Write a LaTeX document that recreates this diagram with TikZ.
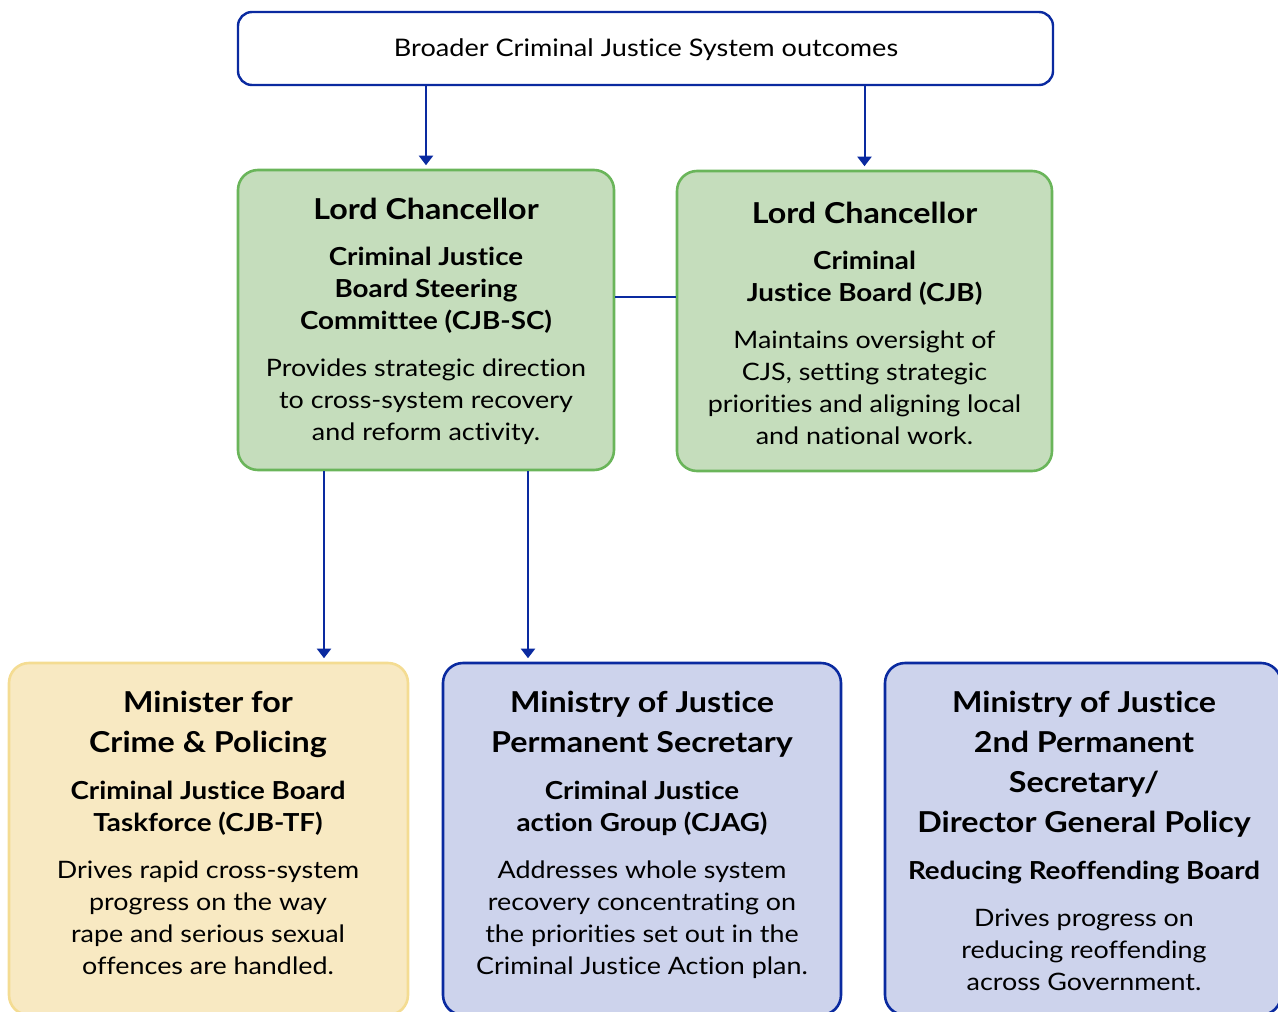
\documentclass[tikz,border=0pt]{standalone}
\usepackage{fontspec}
\setmainfont{Lato}[FakeStretch=1.12, Ligatures=NoCommon]
\usetikzlibrary{arrows.meta,calc}
\definecolor{navy}{HTML}{0A2AA0}
\definecolor{gfill}{HTML}{C5DDBC}
\definecolor{gline}{HTML}{6AB55A}
\definecolor{yfill}{HTML}{F8E9C2}
\definecolor{yline}{HTML}{F4DC92}
\definecolor{bfill}{HTML}{CDD3EC}
\newcommand\ftop{\fontsize{24.2}{32}\selectfont}
\newcommand\fbody{\fontsize{24}{32}\selectfont}
\newcommand\fsub{\fontsize{24.8}{32}\selectfont\bfseries}
\newcommand\fhead{\fontsize{28.8}{40}\selectfont\bfseries}
\tikzset{
  box/.style={rounded corners=20pt, line width=2.6pt},
  greenbox/.style={box, draw=gline, fill=gfill},
  yellowbox/.style={box, draw=yline, fill=yfill},
  bluebox/.style={box, draw=navy, fill=bfill},
  topbox/.style={rounded corners=14pt, line width=2.4pt, draw=navy, fill=white},
  ln/.style={inner sep=0pt, text height=0.72em, text depth=0pt, anchor=center, yshift=-5pt},
  hd/.style={ln, font=\fhead, yshift=-2pt},
  sb/.style={ln, font=\fsub},
  bd/.style={ln, font=\fbody},
  arr/.style={line width=2pt, draw=navy, -{Triangle[width=14pt,length=9.5pt]}, shorten >=3.5pt},
  con/.style={line width=2pt, draw=navy},
}
\begin{document}
\begin{tikzpicture}[x=1pt,y=-1pt]
\useasboundingbox (0,0) rectangle (1278,1012);
\clip (0,0) rectangle (1278,1012);
% boxes
\node[topbox, minimum width=815pt, minimum height=73pt] (top) at (645.5,48.5) {};
\node[greenbox, minimum width=376pt, minimum height=300pt] (gl) at (426,320) {};
\node[greenbox, minimum width=375pt, minimum height=300pt] (gr) at (864.5,321) {};
\node[yellowbox, minimum width=399pt, minimum height=352pt] (yl) at (208.5,839) {};
\node[bluebox, minimum width=398pt, minimum height=352pt] (bm) at (642,839) {};
\node[bluebox, minimum width=396pt, minimum height=352pt] (br) at (1083,839) {};
% connectors
\draw[arr] (gl.north |- top.south) -- (gl.north);
\draw[arr] (gr.north |- top.south) -- (gr.north);
\draw[con] ([yshift=23pt]gl.east) -- ([yshift=23pt]gl.east -| gr.west);
\draw[arr] ([xshift=-102pt]gl.south) -- ([xshift=-102pt]gl.south |- yl.north);
\draw[arr] ([xshift=102pt]gl.south) -- ([xshift=102pt]gl.south |- bm.north);
% top text
\node[ln, font=\ftop] (t0) at (646,48) {Broader Criminal Justice System outcomes};
% green left
\node[hd] (a1) at (426,209) {Lord Chancellor};
\node[sb] (a2) at (426,257) {Criminal Justice};
\node[sb] (a3) at (426,289) {Board Steering};
\node[sb] (a4) at (426,321) {Committee (CJB-SC)};
\node[bd] (a5) at (426,368) {Provides strategic direction};
\node[bd] (a6) at (426,400) {to cross-system recovery};
\node[bd] (a7) at (426,432) {and reform activity.};
% green right
\node[hd] (b1) at (864.5,213) {Lord Chancellor};
\node[sb] (b2) at (864.5,261) {Criminal};
\node[sb] (b3) at (864.5,293) {Justice Board (CJB)};
\node[bd] (b4) at (864.5,340) {Maintains oversight of};
\node[bd] (b5) at (864.5,372) {CJS, setting strategic};
\node[bd] (b6) at (864.5,404) {priorities and aligning local};
\node[bd] (b7) at (864.5,436) {and national work.};
% yellow
\node[hd] (c1) at (208,702) {Minister for};
\node[hd] (c2) at (208,742) {Crime \& Policing};
\node[sb] (c3) at (208,791) {Criminal Justice Board};
\node[sb] (c4) at (208,823) {Taskforce (CJB-TF)};
\node[bd] (c5) at (208,870) {Drives rapid cross-system};
\node[bd] (c6) at (208,902) {progress on the way};
\node[bd] (c7) at (208,934) {rape and serious sexual};
\node[bd] (c8) at (208,966) {offences are handled.};
% blue middle
\node[hd] (d1) at (642,702) {Ministry of Justice};
\node[hd] (d2) at (642,742) {Permanent Secretary};
\node[sb] (d3) at (642,791) {Criminal Justice};
\node[sb] (d4) at (642,823) {action Group (CJAG)};
\node[bd] (d5) at (642,870) {Addresses whole system};
\node[bd] (d6) at (642,902) {recovery concentrating on};
\node[bd] (d7) at (642,934) {the priorities set out in the};
\node[bd] (d8) at (642,966) {Criminal Justice Action plan.};
% blue right
\node[hd] (e1) at (1084,702) {Ministry of Justice};
\node[hd] (e2) at (1084,742) {2nd Permanent};
\node[hd] (e3) at (1084,782) {Secretary/};
\node[hd] (e4) at (1084,822) {Director General Policy};
\node[sb] (e5) at (1084,871) {Reducing Reoffending Board};
\node[bd] (e6) at (1084,918) {Drives progress on};
\node[bd] (e7) at (1084,950) {reducing reoffending};
\node[bd] (e8) at (1084,982) {across Government.};
\end{tikzpicture}
\end{document}
